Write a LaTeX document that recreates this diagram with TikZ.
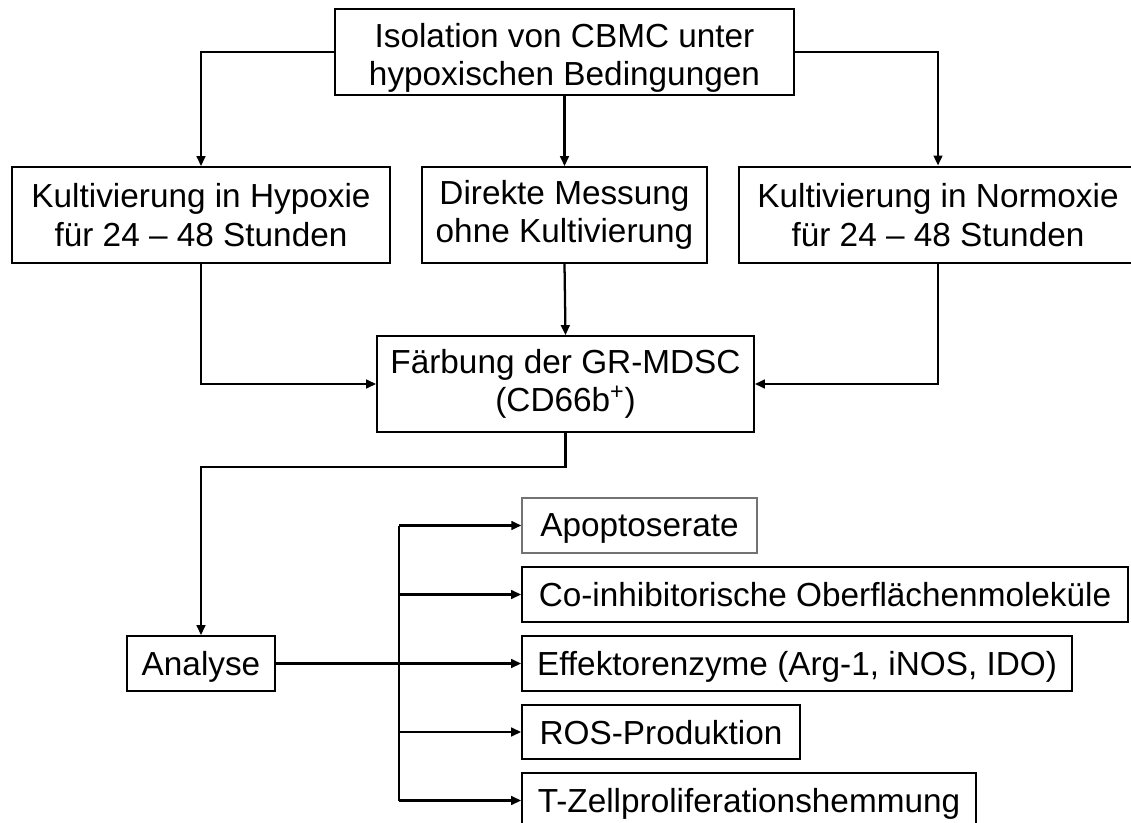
\documentclass[tikz,border=0pt]{standalone}
\usepackage{fontspec}
\setmainfont{Liberation Sans}
\usetikzlibrary{arrows.meta}
\begin{document}
\begin{tikzpicture}[x=0.75pt,y=-0.75pt,
  box/.style={draw=black,line width=1.3pt,fill=white,inner sep=0pt,align=center,
    font=\fontsize{25}{29}\selectfont},
  one/.style={box,text depth=0pt,minimum height=55*0.75pt},
  lbl/.style={inner sep=0pt,align=center,font=\fontsize{25}{29}\selectfont},
  arr/.style={line width=1.7pt,-{Triangle[length=7.5pt,width=6.5pt]}},
  ln/.style={line width=1.7pt}]
\useasboundingbox (0,0) rectangle (1131,823);
\node[box,minimum width=459*0.75pt,minimum height=86*0.75pt] (top) at (564.5,52) {};
\node[lbl] (topt) at (564.5,58) {Isolation von CBMC unter\\hypoxischen Bedingungen};
\node[box,minimum width=378*0.75pt,minimum height=96*0.75pt] (hyp) at (201,215)
  {Kultivierung in Hypoxie\\für 24 – 48 Stunden};
\node[box,minimum width=285*0.75pt,minimum height=96*0.75pt] (dir) at (564.5,215)
  {Direkte Messung\\ohne Kultivierung};
\node[box,line width=2.2pt,minimum width=398*0.75pt,minimum height=96*0.75pt] (norm) at (938,215)
  {Kultivierung in Normoxie\\für 24 – 48 Stunden};
\node[box,minimum width=377*0.75pt,minimum height=96*0.75pt] (farb) at (565.5,384)
  {Färbung der GR-MDSC\\(CD66b\textsuperscript{+})};
\node[one,minimum width=148*0.75pt] (ana) at (201,663.5) {Analyse};
\node[one,draw=black!55,line width=1pt,minimum width=235*0.75pt] (apo) at (639.5,525.5) {Apoptoserate};
\node[one,minimum width=606*0.75pt] (coi) at (825,594.5) {Co-inhibitorische Oberflächenmoleküle};
\node[one,minimum width=550*0.75pt] (eff) at (797,663.5) {Effektorenzyme (Arg-1, iNOS, IDO)};
\node[one,minimum width=278*0.75pt,minimum height=54*0.75pt] (ros) at (661,732) {ROS-Produktion};
\node[one,minimum width=454*0.75pt] (tz) at (749,800.5) {T-Zellproliferationshemmung};

\draw[arr] (top.west) -| (hyp.north);
\draw[arr] (top.east) -| (norm.north);
\draw[arr] (top.south) -- (dir.north);
\draw[arr] (hyp.south) |- (farb.west);
\draw[arr] (norm.south) |- (farb.east);
\draw[arr] (dir.south) -- (farb.north);
\coordinate (k1) at (565.5,467);
\draw[arr] (farb.south) -- (k1) -| (ana.north);
\draw[arr,line width=2.3pt] (ana.east) -- (eff.west);
\coordinate (br) at (399,600);
\draw[ln] (apo.west -| br) -- (tz.west -| br);
\draw[arr] (apo.west -| br) -- (apo.west);
\draw[arr] (coi.west -| br) -- (coi.west);
\draw[arr] (ros.west -| br) -- (ros.west);
\draw[arr] (tz.west -| br) -- (tz.west);
\end{tikzpicture}
\end{document}
